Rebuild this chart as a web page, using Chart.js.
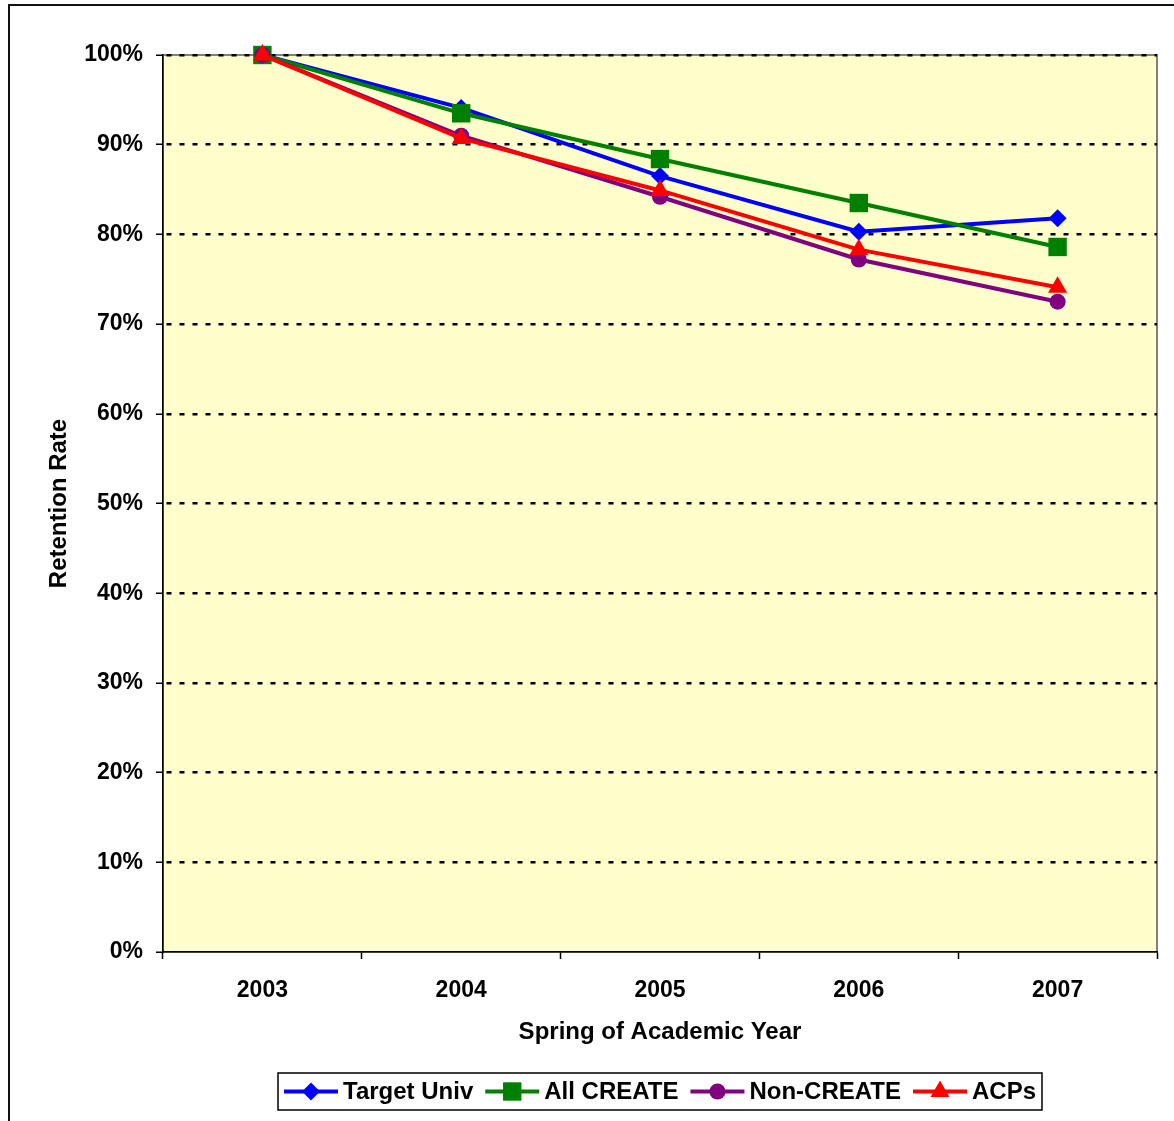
<!DOCTYPE html>
<html>
<head>
<meta charset="utf-8">
<script src="https://cdn.jsdelivr.net/npm/chart.js@4/dist/chart.umd.min.js"></script>
<style>
  html, body { margin: 0; padding: 0; background: #ffffff; }
  #wrap { width: 1174px; height: 1121px; position: relative; }
</style>
</head>
<body>
<div id="wrap"><canvas id="chart" width="1174" height="1121"></canvas></div>
<script>
// Retention rate by spring of academic year (percent)
const years = ['2003', '2004', '2005', '2006', '2007'];
const targetUniv = [100, 94.1, 86.5, 80.3, 81.8];
const allCreate  = [100, 93.5, 88.4, 83.5, 78.6];
const nonCreate  = [100, 91.0, 84.2, 77.2, 72.5];
const acps       = [100, 90.7, 84.9, 78.3, 74.1];

const seriesNames = ['Target Univ', 'All CREATE', 'Non-CREATE', 'ACPs'];
const seriesColors = ['#0000FF', '#008000', '#800080', '#FF0000'];

const FONT = '"Liberation Sans", Arial, Helvetica, sans-serif';

function makeSeries(idx, values, style, radius, order) {
  return {
    label: seriesNames[idx],
    data: values,
    borderColor: seriesColors[idx],
    backgroundColor: seriesColors[idx],
    pointBackgroundColor: seriesColors[idx],
    pointBorderColor: seriesColors[idx],
    pointBorderWidth: 0,
    pointStyle: style,
    pointRadius: radius,
    pointHoverRadius: radius,
    borderWidth: 4,
    tension: 0,
    fill: false,
    clip: false,
    order: order
  };
}

// Plot background, plot border and outer frame
const framePlugin = {
  id: 'frame',
  beforeDraw(chart) {
    const { ctx, chartArea: a } = chart;
    ctx.save();
    ctx.fillStyle = '#ffffff';
    ctx.fillRect(0, 0, chart.width, chart.height);
    ctx.fillStyle = '#FFFFCC';
    ctx.fillRect(a.left, a.top, a.right - a.left, a.bottom - a.top);
    ctx.strokeStyle = '#808080';
    ctx.lineWidth = 2;
    ctx.strokeRect(a.left, a.top, a.right - a.left, a.bottom - a.top);
    ctx.strokeStyle = '#111111';
    ctx.lineWidth = 2;
    ctx.beginPath();
    ctx.moveTo(9, chart.height);
    ctx.lineTo(9, 5);
    ctx.lineTo(chart.width, 5);
    ctx.stroke();
    ctx.restore();
  }
};

// Boxed legend with line-and-marker samples
const legendPlugin = {
  id: 'boxLegend',
  afterDraw(chart) {
    const { ctx, chartArea: a } = chart;
    const ds = chart.data.datasets;
    ctx.save();
    ctx.font = 'bold 24px ' + FONT;
    const lineLen = 54, gap = 5, itemGap = 12, pad = 6;
    const widths = ds.map(d => ctx.measureText(d.label).width);
    const total = widths.reduce((s, w) => s + lineLen + gap + w, 0) + itemGap * (ds.length - 1);
    const cx = (a.left + a.right) / 2;
    const boxX = Math.round(cx - total / 2 - pad);
    const boxW = Math.round(total + 2 * pad);
    const boxY = chart.height - 48;
    const boxH = 37;
    ctx.fillStyle = '#ffffff';
    ctx.fillRect(boxX, boxY, boxW, boxH);
    ctx.strokeStyle = '#000000';
    ctx.lineWidth = 1.5;
    ctx.strokeRect(boxX, boxY, boxW, boxH);
    const y = boxY + boxH / 2;
    let x = boxX + pad;
    ds.forEach((d, i) => {
      ctx.strokeStyle = d.borderColor;
      ctx.lineWidth = 4;
      ctx.beginPath();
      ctx.moveTo(x, y);
      ctx.lineTo(x + lineLen, y);
      ctx.stroke();
      ctx.fillStyle = d.pointBackgroundColor;
      Chart.helpers.drawPoint(ctx, {
        pointStyle: d.pointStyle, radius: d.pointRadius, borderWidth: 0, rotation: 0
      }, x + lineLen / 2, y);
      ctx.fillStyle = '#000000';
      ctx.textAlign = 'left';
      ctx.textBaseline = 'middle';
      ctx.fillText(d.label, x + lineLen + gap, y + 1);
      x += lineLen + gap + widths[i] + itemGap;
    });
    ctx.restore();
  }
};

new Chart(document.getElementById('chart'), {
  type: 'line',
  data: {
    labels: years,
    datasets: [
      makeSeries(0, targetUniv, 'rectRot', 9, 3),
      makeSeries(1, allCreate, 'rect', 13, 2),
      makeSeries(2, nonCreate, 'circle', 8, 1),
      makeSeries(3, acps, 'triangle', 11, 0)
    ]
  },
  options: {
    responsive: false,
    animation: false,
    devicePixelRatio: 1,
    layout: { padding: { left: 0, top: 55, right: 17, bottom: 69 } },
    plugins: {
      legend: { display: false },
      tooltip: { enabled: false }
    },
    scales: {
      x: {
        type: 'category',
        offset: true,
        grid: {
          display: true,
          drawOnChartArea: false,
          drawTicks: true,
          tickLength: 7,
          tickColor: '#000000',
          tickWidth: 1.5,
          offset: true,
          color: '#000000'
        },
        border: { display: true, color: '#000000', width: 1.5 },
        ticks: {
          color: '#000000',
          font: { family: FONT, size: 23, weight: 'bold' },
          padding: 18,
          maxRotation: 0,
          autoSkip: false
        },
        title: {
          display: true,
          text: 'Spring of Academic Year',
          color: '#000000',
          font: { family: FONT, size: 24, weight: 'bold' },
          padding: { top: 0, bottom: 5 }
        },
        afterFit(scale) { scale.height = 100; }
      },
      y: {
        min: 0,
        max: 100,
        ticks: {
          stepSize: 10,
          callback: v => v + '%',
          color: '#000000',
          font: { family: FONT, size: 23, weight: 'bold' },
          padding: 13
        },
        grid: {
          color: c => (c.tick && c.tick.value === 0) ? 'rgba(0,0,0,0)' : '#000000',
          lineWidth: 2.5,
          drawTicks: true,
          tickLength: 7,
          tickColor: '#000000',
          tickWidth: 1.5,
          tickBorderDash: []
        },
        border: { display: true, color: '#000000', width: 1.5, dash: [5, 8], dashOffset: -3 },
        title: {
          display: true,
          text: 'Retention Rate',
          color: '#000000',
          font: { family: FONT, size: 24, weight: 'bold' },
          padding: { top: 45, bottom: 0 }
        },
        afterFit(scale) { scale.width = 163; }
      }
    }
  },
  plugins: [framePlugin, legendPlugin]
});
</script>
</body>
</html>
